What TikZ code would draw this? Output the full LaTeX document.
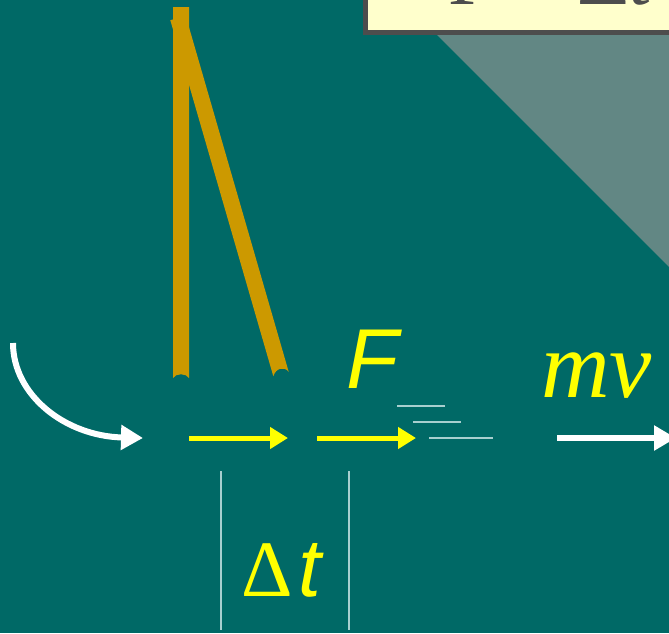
\documentclass[tikz,border=0pt]{standalone}
\usepackage{fontspec}
\setmainfont{Liberation Serif}
\newfontfamily\arialf{Liberation Sans}
\newfontfamily\timesf{Liberation Serif}
\usetikzlibrary{arrows.meta}
\definecolor{bgteal}{HTML}{006966}
\definecolor{shadecol}{HTML}{628784}
\definecolor{boxfill}{HTML}{FFFFCC}
\definecolor{boxline}{HTML}{4D4D4D}
\definecolor{gold}{HTML}{CC9900}
\definecolor{ylw}{HTML}{FFFF00}
\definecolor{pale}{HTML}{A8CFCF}
\tikzset{
  yarrow/.style={draw=ylw, line width=5pt, -{Triangle[length=18pt,width=21pt]}},
  warrow/.style={draw=white, line width=6pt, -{Triangle[length=22pt,width=24pt]}},
  paleline/.style={draw=pale, line width=2pt},
  label/.style={inner sep=0pt, anchor=base west, text=ylw},
}
\begin{document}
\begin{tikzpicture}[x=1pt,y=-1pt]
\useasboundingbox (0,0) rectangle (669,633);
\clip (0,0) rectangle (669,633);
\fill[bgteal] (0,0) rectangle (669,633);
% shadow triangle
\fill[shadecol] (437,35) -- (680,35) -- (680,278) -- cycle;
% box
\filldraw[fill=boxfill, draw=boxline, line width=5pt] (365,-100) rectangle (700,32);
\node[inner sep=0pt, anchor=base west, text=boxline] (boxtext) at (448,4)
  {\timesf\fontsize{80}{80}\selectfont F = Δ\textit{t}};
% gold bars
\fill[gold] (170.3,20.2) -- (185.7,15.8) -- (288.7,371.8)
  .. controls (284,366) and (276,368) .. (273.3,376.2) -- cycle;
\fill[gold] (173,7) -- (189,7) -- (189,378) .. controls (186,373) and (176,373) .. (173,378) -- cycle;
% coordinates
\coordinate (cs) at (13,343);
\coordinate (ce) at (143,438);
\coordinate (y1s) at (189,438);
\coordinate (y1e) at (288,438);
\coordinate (y2s) at (317,438);
\coordinate (y2e) at (416,438);
\coordinate (ws) at (557,438);
\coordinate (we) at (676,438);
% arrows
\draw[warrow] (cs) .. controls (13,395) and (65,436) .. (ce);
\draw[yarrow] (y1s) -- (y1e);
\draw[yarrow] (y2s) -- (y2e);
\draw[warrow] (ws) -- (we);
% pale lines
\coordinate (p1a) at (397,406); \coordinate (p1b) at (445,406);
\coordinate (p2a) at (413,422); \coordinate (p2b) at (461,422);
\coordinate (p3a) at (429,438); \coordinate (p3b) at (493,438);
\draw[paleline] (p1a) -- (p1b);
\draw[paleline] (p2a) -- (p2b);
\draw[paleline] (p3a) -- (p3b);
\coordinate (v1a) at (221,471); \coordinate (v1b) at (221,630);
\coordinate (v2a) at (349,471); \coordinate (v2b) at (349,630);
\draw[paleline] (v1a) -- (v1b);
\draw[paleline] (v2a) -- (v2b);
% labels
\node[label] (F) at (346,388) {\arialf\itshape\fontsize{85}{85}\selectfont F};
\node[label] (mv) at (541,397) {\timesf\itshape\fontsize{95}{95}\selectfont mv};
\node[label] (dt) at (241,596) {\timesf\fontsize{80}{80}\selectfont Δ\hspace{6pt}{\arialf\itshape\fontsize{82}{82}\selectfont t}};
\end{tikzpicture}
\end{document}
